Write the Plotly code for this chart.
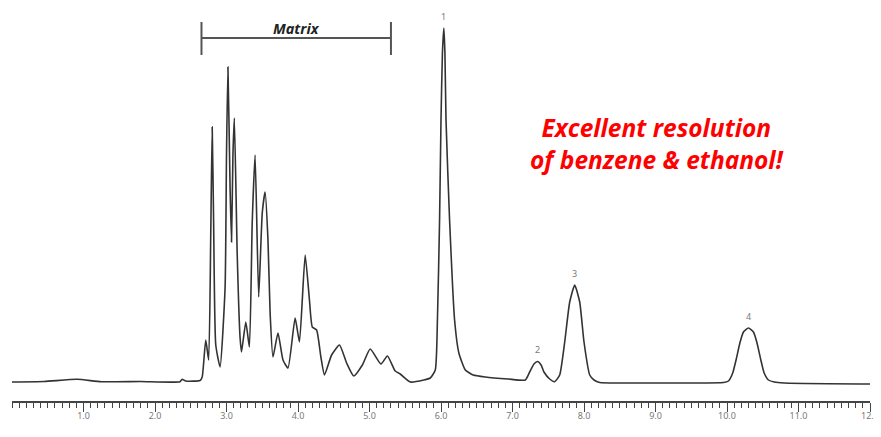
import plotly.graph_objects as go

# Chromatogram trace (time in min, detector signal in arbitrary units)
time_min = [0.00, 0.45, 0.91, 1.25, 1.80, 2.35, 2.38, 2.43, 2.63, 2.66, 2.71, 2.75, 2.78, 2.80, 2.82,
            2.85, 2.91, 2.98, 3.00, 3.02, 3.05, 3.07, 3.09, 3.11, 3.15, 3.19, 3.21, 3.27, 3.32, 3.36,
            3.40, 3.45, 3.50, 3.54, 3.58, 3.61, 3.65, 3.72, 3.79, 3.86, 3.96, 4.02, 4.10, 4.16, 4.20,
            4.26, 4.32, 4.37, 4.47, 4.58, 4.68, 4.78, 4.90, 5.01, 5.16, 5.25, 5.36, 5.43, 5.57, 5.76,
            5.85, 5.92, 5.95, 5.98, 6.00, 6.02, 6.04, 6.055, 6.07, 6.12, 6.19, 6.25, 6.34, 6.45, 6.62,
            6.94, 7.18, 7.24, 7.30, 7.35, 7.40, 7.44, 7.52, 7.59, 7.66, 7.73, 7.80, 7.87, 7.94, 8.00,
            8.08, 8.14, 8.22, 8.50, 9.50, 9.95, 10.02, 10.08, 10.13, 10.18, 10.23, 10.30, 10.37, 10.42,
            10.47, 10.52, 10.58, 10.66, 10.80, 12.00]
signal = [1.0, 1.5, 3.7, 1.3, 1.5, 1.3, 3.7, 2.0, 2.5, 6, 43, 23, 150, 256, 160,
          38, 16, 95, 228, 316, 195, 141, 228, 265, 128, 45, 31, 61, 36, 161,
          228, 86, 170, 191, 143, 70, 26, 50, 23, 15, 65, 41, 128, 83, 56,
          53, 26, 8, 28, 38, 20, 7, 18, 34, 19, 27, 12, 9, 1, 3,
          5, 13, 63, 163, 263, 330, 355, 330, 263, 163, 63, 30, 13, 8, 6,
          4, 3, 11, 19, 21.5, 18, 11, 4, 1.3, 8, 41, 81, 98, 81, 41,
          8, 3, 0.5, 0, 0, 0.5, 2, 10, 24, 40, 51, 55, 51, 40,
          24, 10, 3, 1, 0, -1]

# Peak labels
peak_names = ["1", "2", "3", "4"]
peak_times = [6.04, 7.35, 7.87, 10.30]
peak_heights = [355, 22, 98, 55]

# Matrix bracket span (min)
matrix_start = 2.65
matrix_end = 5.30

# Axis ticks
tick_vals = [1, 2, 3, 4, 5, 6, 7, 8, 9, 10, 11, 12]
tick_text = ["1.0", "2.0", "3.0", "4.0", "5.0", "6.0", "7.0", "8.0", "9.0", "10.0", "11.0", "12.0"]

line_color = "#333333"
axis_color = "#444444"
label_gray = "#7a7a7a"

fig = go.Figure()
fig.add_trace(go.Scatter(
    x=time_min, y=signal, mode="lines",
    line=dict(color=line_color, width=1.6, shape="spline", smoothing=0.5),
    hoverinfo="skip", showlegend=False,
))

annotations = []
for name, t, h in zip(peak_names, peak_times, peak_heights):
    annotations.append(dict(x=t, y=h + 3, xref="x", yref="y", text=name, showarrow=False,
                            font=dict(family="Noto Sans", size=9, color=label_gray),
                            xanchor="center", yanchor="bottom"))

annotations.append(dict(x=(matrix_start + matrix_end) / 2, y=355, xref="x", yref="y",
                        text="<b><i>Matrix</i></b>", showarrow=False,
                        font=dict(family="Open Sans", size=14.5, color="#222222"),
                        xanchor="center", yanchor="middle"))

annotations.append(dict(x=9.02, y=240, xref="x", yref="y",
                        text="<b><i>Excellent resolution<br>of benzene &amp; ethanol!</i></b>",
                        showarrow=False, align="center",
                        font=dict(family="Open Sans", size=24.5, color="#ff0000"),
                        xanchor="center", yanchor="middle"))

annotations.append(dict(x=6.0, y=-49, xref="x", yref="y", text="Time (min)", showarrow=False,
                        font=dict(family="Noto Sans", size=8, color=label_gray),
                        xanchor="center", yanchor="middle"))

shapes = [
    dict(type="line", xref="x", yref="y", x0=matrix_start, x1=matrix_end, y0=345, y1=345,
         line=dict(color="#555555", width=2)),
    dict(type="line", xref="x", yref="y", x0=matrix_start, x1=matrix_start, y0=328, y1=361,
         line=dict(color="#555555", width=2)),
    dict(type="line", xref="x", yref="y", x0=matrix_end, x1=matrix_end, y0=328, y1=361,
         line=dict(color="#555555", width=2)),
]

fig.update_layout(
    width=873, height=429,
    margin=dict(l=3.5, r=7, t=2, b=36),
    paper_bgcolor="white", plot_bgcolor="white",
    annotations=annotations, shapes=shapes,
    xaxis=dict(range=[0, 12], showgrid=False, zeroline=False,
               showline=True, linecolor=axis_color, linewidth=2,
               ticks="outside", ticklen=9, tickwidth=1.2, tickcolor=axis_color,
               tickvals=tick_vals, ticktext=tick_text, ticklabeloverflow="allow",
               ticklabelstandoff=-4,
               tickfont=dict(family="Noto Sans", size=9, color=label_gray),
               minor=dict(dtick=0.1, tick0=0, ticks="outside", ticklen=5, tickwidth=1,
                          tickcolor=axis_color, showgrid=False)),
    yaxis=dict(range=[-18, 373], visible=False, showgrid=False, zeroline=False),
)

fig.write_html("out.html")
